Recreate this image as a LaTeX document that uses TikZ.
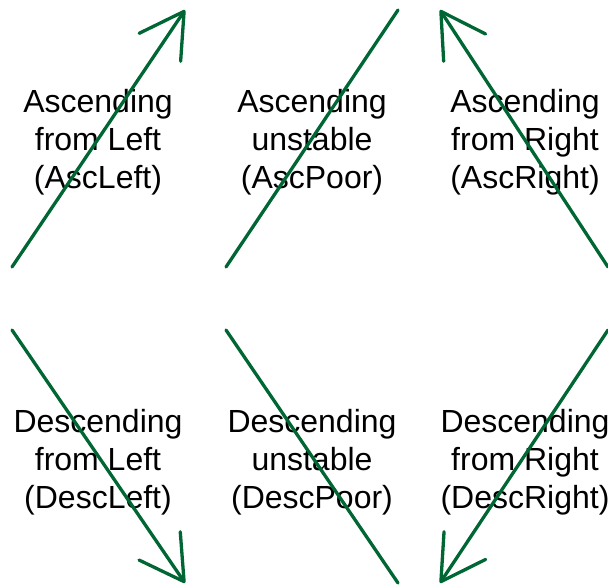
\documentclass[tikz,border=0pt]{standalone}
\usepackage{fontspec}
\setmainfont{Liberation Sans}
\usetikzlibrary{arrows.meta}
\definecolor{trendgreen}{RGB}{0,102,51}

\begin{document}
\begin{tikzpicture}[x=1pt,y=-1pt,
    trendlabel/.style={font=\fontsize{32}{38}\selectfont, align=center, inner sep=0pt},
    trendline/.style={trendgreen, line width=3.3pt, line cap=round},
    trendarrow/.style={trendline, -{Straight Barb[angle=60:50pt, round]}}]

\useasboundingbox (0,0) rectangle (608,586);

% Define the labels of the upper row
\node[trendlabel] (ascleft) at (98,142) {Ascending\\from Left\\(AscLeft)};
\node[trendlabel] (ascpoor) at (312,142) {Ascending\\unstable\\(AscPoor)};
\node[trendlabel] (ascright) at (525,142) {Ascending\\from Right\\(AscRight)};

% Define the labels of the lower row
\node[trendlabel] (descleft) at (98,462) {Descending\\from Left\\(DescLeft)};
\node[trendlabel] (descpoor) at (312,462) {Descending\\unstable\\(DescPoor)};
\node[trendlabel] (descright) at (525,462) {Descending\\from Right\\(DescRight)};

% Define the end points of the upper lines
\coordinate (ascleftS) at (12,267);
\coordinate (ascleftE) at (185,10);
\coordinate (ascpoorS) at (226,267);
\coordinate (ascpoorE) at (398,10);
\coordinate (ascrightS) at (608,267);
\coordinate (ascrightE) at (440,10);

% Define the end points of the lower lines
\coordinate (descleftS) at (12,330);
\coordinate (descleftE) at (185,583);
\coordinate (descpoorS) at (226,330);
\coordinate (descpoorE) at (398,583);
\coordinate (descrightS) at (608,330);
\coordinate (descrightE) at (440,583);

% Draw the lines over the labels
\draw[trendarrow] (ascleftS) -- (ascleftE);
\draw[trendline] (ascpoorS) -- (ascpoorE);
\draw[trendarrow] (ascrightS) -- (ascrightE);
\draw[trendarrow] (descleftS) -- (descleftE);
\draw[trendline] (descpoorS) -- (descpoorE);
\draw[trendarrow] (descrightS) -- (descrightE);

\end{tikzpicture}
\end{document}
